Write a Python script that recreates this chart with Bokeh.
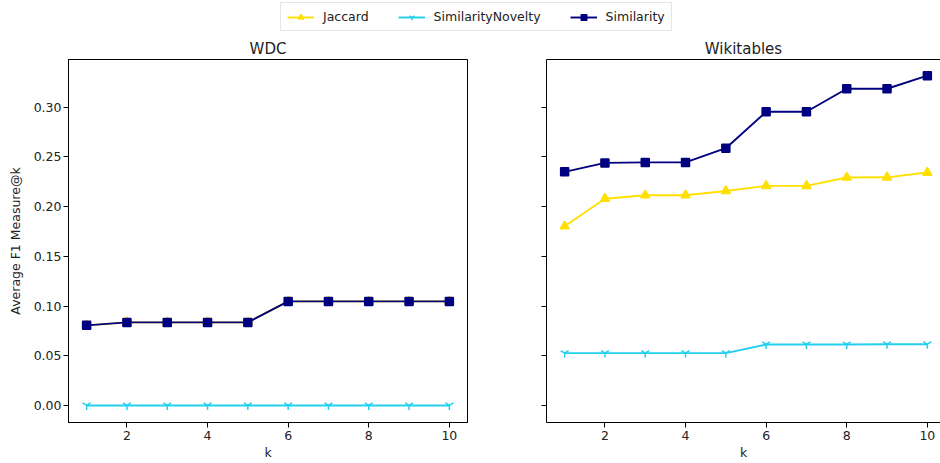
from bokeh.plotting import figure
from bokeh.models import (Range1d, FixedTicker, PrintfTickFormatter, LinearAxis,
                          Legend, LegendItem, ColumnDataSource)
from bokeh.layouts import column, row
from bokeh.embed import file_html
from bokeh.resources import INLINE

# ---------------- data ----------------
k = [1, 2, 3, 4, 5, 6, 7, 8, 9, 10]

wdc_jaccard = [0.0806, 0.0836, 0.0836, 0.0836, 0.0836, 0.1047, 0.1047, 0.1047, 0.1047, 0.1047]
wdc_novelty = [0.0, 0.0, 0.0, 0.0, 0.0, 0.0, 0.0, 0.0, 0.0, 0.0]
wdc_similarity = [0.0806, 0.0836, 0.0836, 0.0836, 0.0836, 0.1047, 0.1047, 0.1047, 0.1047, 0.1047]

wiki_jaccard = [0.1803, 0.2080, 0.2115, 0.2115, 0.2158, 0.2209, 0.2209, 0.2293, 0.2295, 0.2343]
wiki_novelty = [0.0527, 0.0527, 0.0527, 0.0527, 0.0527, 0.0614, 0.0614, 0.0614, 0.0616, 0.0616]
wiki_similarity = [0.2350, 0.2440, 0.2445, 0.2445, 0.2588, 0.2954, 0.2954, 0.3186, 0.3186, 0.3317]

series_names = ["Jaccard", "SimilarityNovelty", "Similarity"]
y_ticks = [0.0, 0.05, 0.10, 0.15, 0.20, 0.25, 0.30]
x_ticks = [2, 4, 6, 8, 10]

# ---------------- styles ----------------
COLORS = {"Jaccard": "#FFE000", "SimilarityNovelty": "#22D0EE", "Similarity": "#000080"}
MARKERS = {"Jaccard": "triangle", "SimilarityNovelty": "y", "Similarity": "square"}
SIZES = {"Jaccard": 9, "SimilarityNovelty": 9, "Similarity": 8}
FONT = "DejaVu Sans"
TXT = "#222222"
FS = "12.5px"

y_range = Range1d(-0.0171, 0.348)


def style_axis(ax):
    ax.major_tick_out = 5
    ax.major_tick_in = 0
    ax.minor_tick_line_color = None
    ax.axis_line_color = "black"
    ax.major_tick_line_color = "black"
    ax.major_label_text_font = FONT
    ax.major_label_text_font_size = FS
    ax.major_label_text_color = TXT
    ax.axis_label_text_font = FONT
    ax.axis_label_text_font_size = FS
    ax.axis_label_text_font_style = "normal"
    ax.axis_label_text_color = TXT


def make_panel(title, data, x_end, width, border_left, border_right, show_ylabels, outline):
    p = figure(width=width, height=428, output_backend="svg", toolbar_location=None,
               x_range=Range1d(0.55, x_end), y_range=y_range,
               min_border_left=border_left, min_border_right=border_right,
               min_border_top=24, min_border_bottom=41,
               x_axis_location=None, y_axis_location=None)
    p.title.text = title
    p.title.align = "center"
    p.title.text_font = FONT
    p.title.text_font_size = "15px"
    p.title.text_font_style = "normal"
    p.title.text_color = TXT
    p.title.standoff = 4
    p.grid.visible = False
    p.background_fill_color = "white"
    p.border_fill_color = "white"
    if outline:
        p.outline_line_color = "black"
        p.outline_line_alpha = 1
    else:
        p.outline_line_color = None

    xa = LinearAxis(axis_label="k", ticker=FixedTicker(ticks=x_ticks))
    style_axis(xa)
    xa.major_label_standoff = 3
    xa.axis_label_standoff = 2
    p.add_layout(xa, "below")

    ya = LinearAxis(ticker=FixedTicker(ticks=y_ticks),
                    formatter=PrintfTickFormatter(format="%.2f"))
    style_axis(ya)
    ya.major_label_standoff = 2
    if show_ylabels:
        ya.axis_label = "Average F1 Measure@k"
        ya.axis_label_standoff = 8
    else:
        ya.major_label_overrides = {t: "" for t in y_ticks}
    p.add_layout(ya, "left")

    if not outline:
        top = LinearAxis(ticker=FixedTicker(ticks=[]))
        top.major_tick_line_color = None
        top.minor_tick_line_color = None
        top.axis_line_color = "black"
        p.add_layout(top, "above")

    for name, vals in zip(series_names, data):
        src = ColumnDataSource(dict(k=k, v=vals))
        p.line("k", "v", source=src, line_color=COLORS[name], line_width=1.9)
        p.scatter("k", "v", source=src, marker=MARKERS[name], size=SIZES[name],
                  fill_color=COLORS[name], line_color=COLORS[name], line_width=1.5)
    return p


p1 = make_panel("WDC", [wdc_jaccard, wdc_novelty, wdc_similarity],
                10.45, 500, 68, 33, True, True)
p2 = make_panel("Wikitables", [wiki_jaccard, wiki_novelty, wiki_similarity],
                0.55 + 394 / 40.3, 440, 46, 0, False, False)

# ---------------- legend strip (proxy renderers lie outside its ranges) ----------------
lf = figure(width=940, height=35, output_backend="svg", toolbar_location=None,
            x_range=Range1d(100, 101), y_range=Range1d(100, 101),
            min_border=0, x_axis_location=None, y_axis_location=None)
lf.grid.visible = False
lf.outline_line_color = None
items = []
for name, vals in zip(series_names, [wiki_jaccard, wiki_novelty, wiki_similarity]):
    src = ColumnDataSource(dict(k=k, v=vals))
    lr = lf.line("k", "v", source=src, line_color=COLORS[name], line_width=1.9)
    sr = lf.scatter("k", "v", source=src, marker=MARKERS[name], size=SIZES[name],
                    fill_color=COLORS[name], line_color=COLORS[name], line_width=1.5)
    items.append(LegendItem(label=name, renderers=[lr, sr]))
leg = Legend(items=items, orientation="horizontal", location=(280, 4))
leg.margin = 0
leg.padding = 6
leg.spacing = 29
leg.glyph_width = 27
leg.glyph_height = 14
leg.label_height = 14
leg.label_standoff = 9
leg.label_text_font = FONT
leg.label_text_font_size = FS
leg.label_text_color = TXT
leg.border_line_color = "#cccccc"
leg.border_line_width = 1
leg.background_fill_alpha = 1
lf.add_layout(leg, "center")

layout = column(lf, row(p1, p2, spacing=0), spacing=0)

open("out.html", "w").write(file_html(layout, INLINE))
